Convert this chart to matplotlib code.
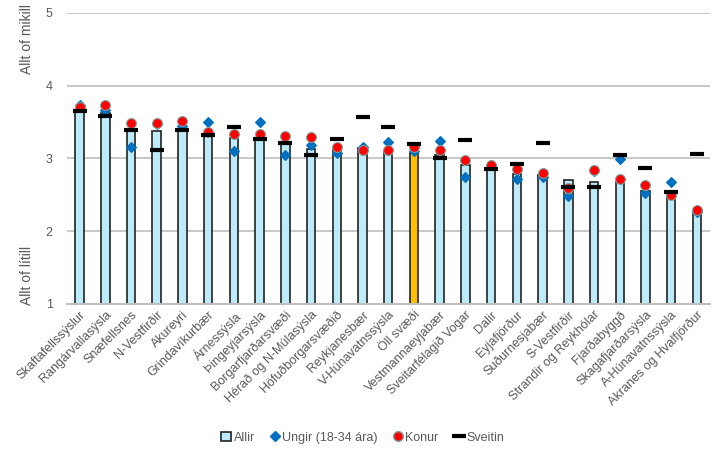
import numpy as np
from matplotlib import pyplot as plt
from matplotlib.lines import Line2D
from matplotlib.patches import Patch

plt.rcParams['font.family'] = ['Liberation Sans', 'DejaVu Sans']

svaedi = ['Skaftafellssýslur', 'Rangárvallasýsla', 'Snæfellsnes', 'N-Vestfirðir',
          'Akureyri', 'Grindavíkurbær', 'Árnessýsla', 'Þingeyjarsýsla',
          'Borgarfjarðarsvæði', 'Hérað og N-Múlasýsla', 'Höfuðborgarsvæðið',
          'Reykjanesbær', 'V-Húnavatnssýsla', 'Öll svæði', 'Vestmannaeyjabær',
          'Sveitarfélagið Vogar', 'Dalir', 'Eyjafjörður', 'Suðurnesjabær',
          'S-Vestfirðir', 'Strandir og Reykhólar', 'Fjarðabyggð',
          'Skagafjarðarsýsla', 'A-Húnavatnssýsla', 'Akranes og Hvalfjörður']

allir = [3.67, 3.63, 3.39, 3.37, 3.40, 3.31, 3.28, 3.27, 3.22, 3.13, 3.12, 3.14, 3.10,
         3.08, 3.04, 2.91, 2.87, 2.79, 2.77, 2.70, 2.68, 2.68, 2.55, 2.48, 2.24]
ungir = [3.73, 3.67, 3.16, 3.47, 3.44, 3.50, 3.10, 3.50, 3.04, 3.18, 3.08, 3.16, 3.22,
         3.10, 3.24, 2.75, 2.91, 2.71, 2.75, 2.48, 2.83, 2.99, 2.53, 2.67, 2.26]
konur = [3.70, 3.73, 3.48, 3.48, 3.52, 3.36, 3.33, 3.33, 3.31, 3.30, 3.16, 3.11, 3.11,
         3.15, 3.11, 2.98, 2.91, 2.86, 2.80, 2.59, 2.84, 2.72, 2.63, 2.49, 2.29]
sveitin = [3.65, 3.58, 3.39, 3.11, 3.39, 3.32, 3.43, 3.27, 3.21, 3.05, 3.26, 3.57, 3.43,
           3.20, 3.00, 3.25, 2.86, 2.92, 3.21, 2.61, 2.61, 3.05, 2.87, 2.54, 3.06]

gray = '#595959'
x = np.arange(len(svaedi))
colors = ['#FFC000' if s == 'Öll svæði' else '#BDEBF9' for s in svaedi]

fig = plt.figure(figsize=(7.25, 4.57), dpi=100)
ax = fig.add_axes([0.092, 0.335, 0.887, 0.637])

ax.bar(x, np.array(allir) - 1, bottom=1, width=0.33, color=colors,
       edgecolor='#222222', linewidth=1.2, zorder=2)
ax.scatter(x, ungir, marker='D', s=24, color='#0070C0', zorder=3)
ax.scatter(x, konur, marker='o', s=50, color='#FF0000', edgecolor='#7F9F9F',
           linewidth=0.8, zorder=4)
ax.scatter(x, sveitin, marker='_', s=90, color='black', linewidth=3, zorder=5)

ax.set_xlim(-0.5, len(svaedi) - 0.5)
ax.set_ylim(1, 5)
ax.set_yticks([1, 2, 3, 4, 5])
ax.grid(axis='y', color='#BFBFBF', linewidth=1.2, zorder=0)
for s in ['top', 'right', 'left']:
    ax.spines[s].set_visible(False)
ax.spines['bottom'].set_color('#BFBFBF')
ax.spines['bottom'].set_linewidth(1.5)
ax.tick_params(axis='both', length=0, colors=gray, labelsize=9)
ax.tick_params(axis='y', pad=10)
ax.set_xticks(x)
ax.set_xticklabels(svaedi, rotation=45, ha='right', rotation_mode='anchor', color=gray)

fig.text(0.037, 0.915, 'Allt of mikill', rotation=90, ha='center', va='center',
         color=gray, fontsize=10)
fig.text(0.037, 0.398, 'Allt of lítill', rotation=90, ha='center', va='center',
         color=gray, fontsize=10)

handles = [Patch(facecolor='#BDEBF9', edgecolor='#222222', linewidth=1.2),
           Line2D([], [], marker='D', color='#0070C0', linestyle='', markersize=5),
           Line2D([], [], marker='o', color='#FF0000', markeredgecolor='#7F9F9F',
                  linestyle='', markersize=7),
           Line2D([], [], marker='_', color='black', linestyle='', markersize=10,
                  markeredgewidth=3)]
fig.legend(handles, ['Allir', 'Ungir (18-34 ára)', 'Konur', 'Sveitin'],
           loc='center', bbox_to_anchor=(0.5, 0.042), ncol=4, frameon=False,
           fontsize=9, labelcolor=gray, handlelength=0.8, handletextpad=0.2,
           columnspacing=1.2)

fig.savefig('out.png', dpi=100)
